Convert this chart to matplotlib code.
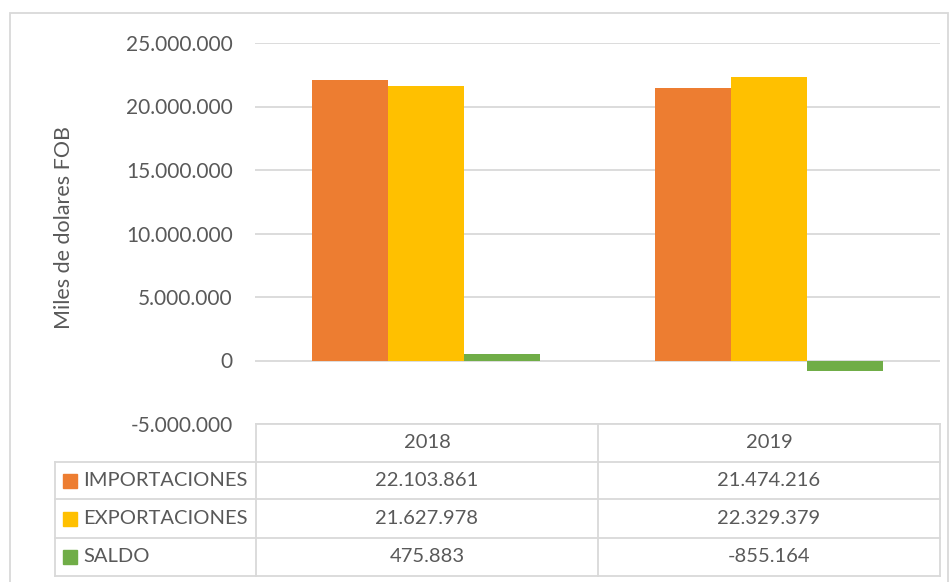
import matplotlib.pyplot as plt
import numpy as np
from matplotlib.lines import Line2D
from matplotlib.patches import Rectangle

# Data
years = ["2018", "2019"]
series = ["IMPORTACIONES", "EXPORTACIONES", "SALDO"]
importaciones = [22103861, 21474216]
exportaciones = [21627978, 22329379]
saldo = [475883, -855164]
values = [importaciones, exportaciones, saldo]
colors = ["#ED7D31", "#FFC000", "#70AD47"]

W, H = 952, 582
grid_col = "#d9d9d9"
text_col = "#595959"
plt.rcParams["font.family"] = ["Lato", "DejaVu Sans"]
FS_TICK = 15
FS_LABEL = 15.5
FS_TABLE = 14.5


def fx(x):
    return x / W


def fy(y):
    return 1 - y / H


def fmt(v):
    return f"{v:,}".replace(",", ".")


def hline(y, x0, x1):
    fig.add_artist(Line2D([fx(x0), fx(x1)], [fy(y), fy(y)], transform=fig.transFigure,
                          color=grid_col, lw=1.3))


def vline(x, y0, y1):
    fig.add_artist(Line2D([fx(x), fx(x)], [fy(y0), fy(y1)], transform=fig.transFigure,
                          color=grid_col, lw=1.3))


fig = plt.figure(figsize=(W / 100, H / 100), dpi=100)

# outer chart border
fig.add_artist(Rectangle((fx(10), fy(590)), fx(948) - fx(10), fy(13) - fy(590),
                         transform=fig.transFigure, fill=False, edgecolor=grid_col, lw=1.3))

ax = fig.add_axes([fx(255), fy(424), fx(940) - fx(255), fy(43) - fy(424)])
x = np.arange(len(years))
width = 0.222
for i, (name, vals) in enumerate(zip(series, values)):
    ax.bar(x + (i - 1) * width, vals, width, color=colors[i], zorder=3)

ax.set_xlim(-0.5, 1.5)
ax.set_ylim(-5e6, 25e6)
ticks = np.arange(-5e6, 25e6 + 1, 5e6)
ax.set_yticks(ticks)
ax.set_yticklabels([fmt(int(t)) for t in ticks], fontsize=FS_TICK, color=text_col)
ax.yaxis.grid(True, color=grid_col, lw=1.3, zorder=0)
ax.set_xticks([])
ax.tick_params(axis="y", length=0, pad=16)
for s in ax.spines.values():
    s.set_visible(False)

fig.text(fx(64), fy(228), "Miles de dolares FOB", rotation=90, ha="center", va="center",
         fontsize=FS_LABEL, color=text_col)

# data table
rows_y = [424, 462, 499, 538, 576]
col_x = [55, 256, 598, 940]
hline(rows_y[0], col_x[1], col_x[3])
for y in rows_y[1:]:
    hline(y, col_x[0], col_x[3])
vline(col_x[0], rows_y[1], rows_y[-1])
for xx in col_x[1:]:
    vline(xx, rows_y[0], rows_y[-1])

for j, yr in enumerate(years):
    cx = (col_x[j + 1] + col_x[j + 2]) / 2
    fig.text(fx(cx), fy((rows_y[0] + rows_y[1]) / 2), yr, ha="center", va="center",
             fontsize=FS_TABLE, color=text_col)

for i, name in enumerate(series):
    cy = (rows_y[i + 1] + rows_y[i + 2]) / 2
    fig.add_artist(Rectangle((fx(63), fy(cy + 7)), fx(14), fy(cy - 7) - fy(cy + 7),
                             transform=fig.transFigure, color=colors[i]))
    fig.text(fx(83), fy(cy), name, ha="left", va="center", fontsize=FS_TABLE, color=text_col)
    for j in range(len(years)):
        cx = (col_x[j + 1] + col_x[j + 2]) / 2
        fig.text(fx(cx), fy(cy), fmt(values[i][j]), ha="center", va="center",
                 fontsize=FS_TABLE, color=text_col)

fig.savefig("out.png", dpi=100)
